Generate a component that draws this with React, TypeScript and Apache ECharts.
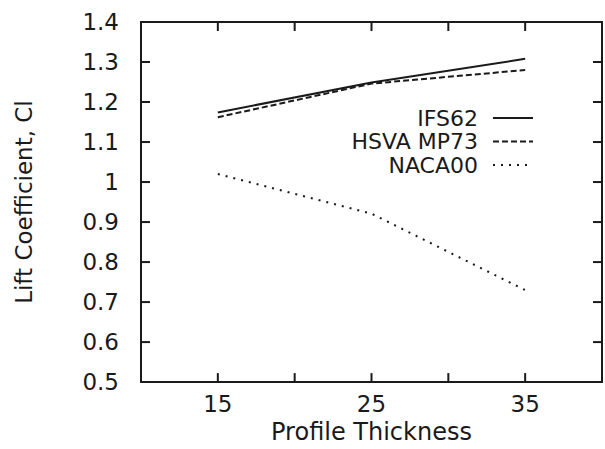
import React, { useEffect, useRef } from "react";
import * as echarts from "echarts";

const thickness = [15, 25, 35];
const seriesNames = ["IFS62", "HSVA MP73", "NACA00"];
const ifs62 = [1.174, 1.249, 1.308];
const hsvaMp73 = [1.162, 1.246, 1.28];
const naca00 = [1.02, 0.921, 0.73];
const xLabelTicks = [15, 25, 35];
const xTicks = [15, 20, 25, 30, 35];
const yTicks = [0.6, 0.7, 0.8, 0.9, 1.0, 1.1, 1.2, 1.3];
const dashes = [null, [6, 3], [2, 6]];

const FONT = "'DejaVu Sans', Verdana, sans-serif";
const INK = "#1a1a1a";
const X_MIN = 10;
const X_MAX = 40;
const Y_MIN = 0.5;
const Y_MAX = 1.4;

export default function App() {
  const ref = useRef<HTMLDivElement>(null);
  useEffect(() => {
    if (!ref.current) return;
    const chart = echarts.init(ref.current, null, { renderer: "svg" });
    const values = [ifs62, hsvaMp73, naca00];
    const line = () => ({ show: true, onZero: false, lineStyle: { color: INK, width: 2 } });
    const legendX = 478;
    const legendY = [118, 141.5, 165];
    const graphics: any[] = [];
    seriesNames.forEach((n, i) => {
      graphics.push({
        type: "text",
        right: 605 - legendX,
        top: legendY[i] - 11,
        style: {
          text: n,
          font: `22px ${FONT}`,
          lineHeight: 22,
          fill: INK,
          textAlign: "right",
        },
      });
      graphics.push({
        type: "line",
        shape: { x1: 493, y1: legendY[i], x2: 533, y2: legendY[i] },
        style: { stroke: INK, lineWidth: 2, lineDash: dashes[i] || undefined },
      });
    });
    chart.setOption({
      animation: false,
      backgroundColor: "#ffffff",
      grid: { left: 141, right: 1, top: 22, bottom: 57, containLabel: false },
      xAxis: [
        {
          type: "value",
          min: X_MIN,
          max: X_MAX,
          interval: 5,
          position: "bottom",
          axisLine: line(),
          axisTick: { show: false },
          splitLine: { show: false },
          axisLabel: {
            color: INK,
            fontFamily: FONT,
            fontSize: 23,
            margin: 10,
            formatter: (v: number) => (xLabelTicks.includes(v) ? String(v) : ""),
          },
          name: "Profile Thickness",
          nameLocation: "middle",
          nameGap: 33,
          nameTextStyle: { color: INK, fontFamily: FONT, fontSize: 24 },
        },
        {
          type: "value",
          min: X_MIN,
          max: X_MAX,
          interval: 5,
          position: "top",
          axisLine: line(),
          axisTick: { show: false },
          splitLine: { show: false },
          axisLabel: { show: false },
        },
      ],
      yAxis: [
        {
          type: "value",
          min: Y_MIN,
          max: Y_MAX,
          interval: 0.1,
          position: "left",
          axisLine: line(),
          axisTick: { show: false },
          splitLine: { show: false },
          axisLabel: {
            color: INK,
            fontFamily: FONT,
            fontSize: 23,
            margin: 22,
            formatter: (v: number) => String(Math.round(v * 10) / 10),
          },
          name: "Lift Coefficient, Cl",
          nameLocation: "middle",
          nameRotate: 90,
          nameGap: 106,
          nameTextStyle: { color: INK, fontFamily: FONT, fontSize: 23 },
        },
        {
          type: "value",
          min: Y_MIN,
          max: Y_MAX,
          interval: 0.1,
          position: "right",
          axisLine: line(),
          axisTick: { show: false },
          splitLine: { show: false },
          axisLabel: { show: false },
        },
      ],
      series: seriesNames.map((n, i) => ({
        name: n,
        type: "line",
        xAxisIndex: 0,
        yAxisIndex: 0,
        data: thickness.map((t, j) => [t, values[i][j]]),
        symbol: "none",
        lineStyle: {
          color: INK,
          width: 2,
          type: dashes[i] ? (dashes[i] as number[]) : "solid",
        },
      })),
      graphic: graphics,
    });

    // Inward tick marks on all four sides, positioned through the axes' own scales.
    const TL = 9;
    const ticks: any[] = [];
    const toPx = (x: number, y: number) =>
      chart.convertToPixel({ xAxisIndex: 0, yAxisIndex: 0 }, [x, y]) as number[];
    const [, yBottom] = toPx(X_MIN, Y_MIN);
    const [, yTop] = toPx(X_MIN, Y_MAX);
    const [xLeft] = toPx(X_MIN, Y_MIN);
    const [xRight] = toPx(X_MAX, Y_MIN);
    const tickStyle = { stroke: INK, lineWidth: 2 };
    xTicks.forEach((t) => {
      const [px] = toPx(t, Y_MIN);
      ticks.push({ type: "line", shape: { x1: px, y1: yBottom, x2: px, y2: yBottom - TL }, style: tickStyle });
      ticks.push({ type: "line", shape: { x1: px, y1: yTop, x2: px, y2: yTop + TL }, style: tickStyle });
    });
    yTicks.forEach((t) => {
      const [, py] = toPx(X_MIN, t);
      ticks.push({ type: "line", shape: { x1: xLeft, y1: py, x2: xLeft + TL, y2: py }, style: tickStyle });
      ticks.push({ type: "line", shape: { x1: xRight, y1: py, x2: xRight - TL, y2: py }, style: tickStyle });
    });
    chart.setOption({ graphic: [...graphics, ...ticks] });
    return () => chart.dispose();
  }, []);
  return (
    <div
      ref={ref}
      style={{ position: "fixed", left: 0, top: 0, width: 605, height: 449, background: "#fff" }}
    />
  );
}
